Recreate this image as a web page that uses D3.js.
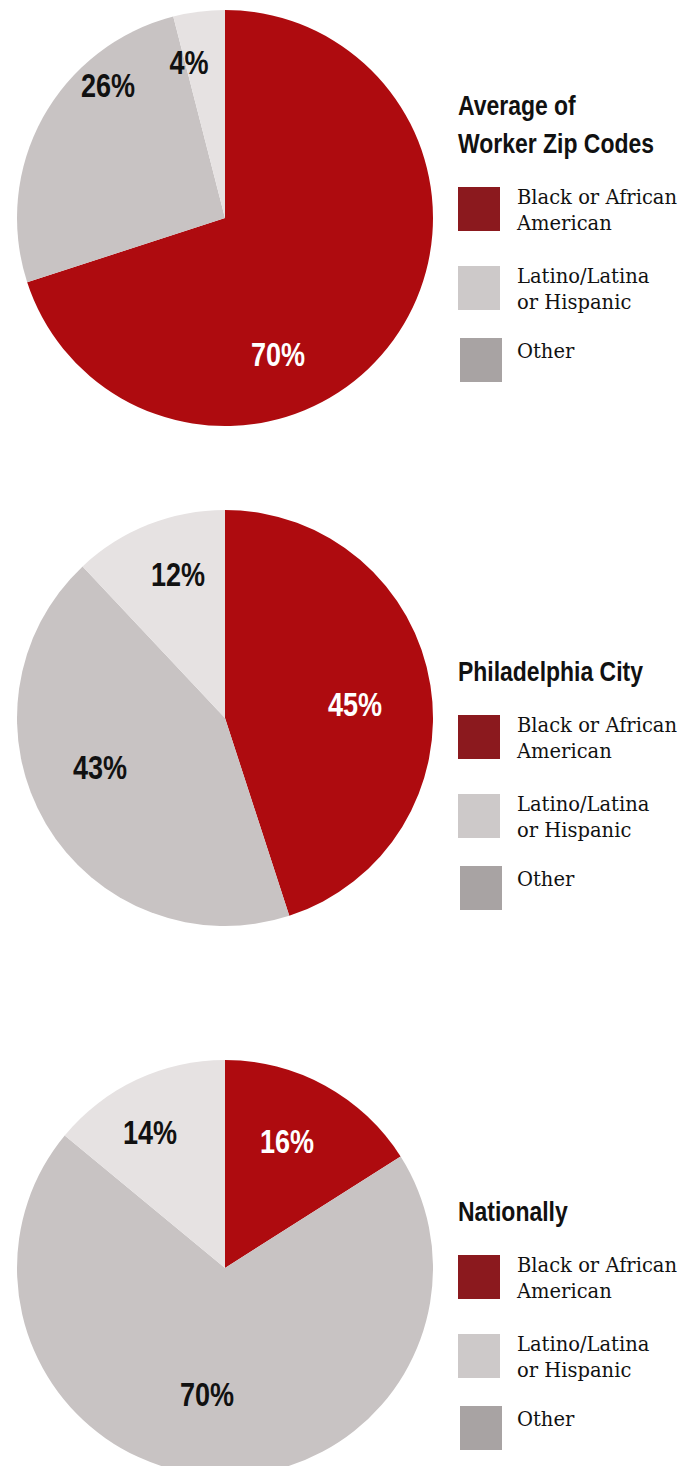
<!DOCTYPE html>
<html>
<head>
<meta charset="utf-8">
<script src="https://cdn.jsdelivr.net/npm/d3@7"></script>
<style>
  html, body { margin: 0; padding: 0; background: #ffffff; }
  svg { display: block; }
</style>
</head>
<body>
<svg id="chart" width="693" height="1466"></svg>
<script>
// ---- Data ----
const regions = ["Average of Worker Zip Codes", "Philadelphia City", "Nationally"];
const titleLines = [["Average of", "Worker Zip Codes"], ["Philadelphia City"], ["Nationally"]];
const categories = ["Black or African American", "Latino/Latina or Hispanic", "Other"];
const legendLines = [["Black or African", "American"], ["Latino/Latina", "or Hispanic"], ["Other"]];
const blackValues = [70, 45, 16];
const latinoValues = [4, 12, 14];
const otherValues = [26, 43, 70];

// ---- Layout / style ----
const cx = 225, radius = 208;
const pieCY = [218, 718, 1268];
const legendTop = [187, 715, 1255];
const legendX = 458;
const condense = 0.82;
// clockwise slice order from 12 o'clock
const sliceOrder = ["Black or African American", "Other", "Latino/Latina or Hispanic"];
const pieColor = d3.scaleOrdinal()
  .domain(categories)
  .range(["#ae0b0f", "#e6e2e2", "#c8c3c3"]);
const legendColor = d3.scaleOrdinal()
  .domain(categories)
  .range(["#8b191e", "#cdc9c9", "#a8a3a3"]);
const labelColor = d3.scaleOrdinal()
  .domain(categories)
  .range(["#ffffff", "#111111", "#111111"]);
// label offsets relative to each pie centre [dx, dy] per category
const labelOffsets = [
  { "Black or African American": [53, 137], "Other": [-117, -132], "Latino/Latina or Hispanic": [-36, -155] },
  { "Black or African American": [130, -13], "Other": [-125, 50], "Latino/Latina or Hispanic": [-47, -143] },
  { "Black or African American": [62, -126], "Other": [-18, 127], "Latino/Latina or Hispanic": [-75, -135] }
];

const svg = d3.select("#chart");
const pie = d3.pie().sort(null).value(d => d.value);
const arc = d3.arc().innerRadius(0).outerRadius(radius);

const sans = "'Liberation Sans', Arial, sans-serif";
const serif = "'DejaVu Serif', 'Liberation Serif', serif";

regions.forEach((region, i) => {
  const valueOf = {
    "Black or African American": blackValues[i],
    "Latino/Latina or Hispanic": latinoValues[i],
    "Other": otherValues[i]
  };
  const data = sliceOrder.map(c => ({ cat: c, value: valueOf[c] }));
  const g = svg.append("g").attr("transform", `translate(${cx},${pieCY[i]})`);
  const arcs = pie(data);
  g.selectAll("path")
    .data(arcs)
    .join("path")
    .attr("d", arc)
    .attr("fill", d => pieColor(d.data.cat));

  g.selectAll("text")
    .data(arcs)
    .join("text")
    .attr("transform", d => `translate(${labelOffsets[i][d.data.cat][0]},${labelOffsets[i][d.data.cat][1]}) scale(${condense},1)`)
    .attr("text-anchor", "middle")
    .attr("dominant-baseline", "central")
    .attr("font-family", sans)
    .attr("font-weight", "bold")
    .attr("font-size", 33)
    .attr("fill", d => labelColor(d.data.cat))
    .text(d => d.data.value + "%");

  // Legend
  const top = legendTop[i];
  const lg = svg.append("g");
  const tl = titleLines[i];
  tl.forEach((line, j) => {
    lg.append("text")
      .attr("transform", `translate(${legendX},${top - 34 - (tl.length - 1 - j) * 38}) scale(${condense},1)`)
      .attr("font-family", sans)
      .attr("font-weight", "bold")
      .attr("font-size", 28)
      .attr("fill", "#111111")
      .text(line);
  });
  const itemDY = [0, 79, 151];
  const boxDX = [0, 0, 2];
  categories.forEach((c, k) => {
    const y0 = top + itemDY[k];
    lg.append("rect")
      .attr("x", legendX + boxDX[k])
      .attr("y", y0)
      .attr("width", 42)
      .attr("height", 44)
      .attr("fill", legendColor(c));
    legendLines[k].forEach((line, j) => {
      lg.append("text")
        .attr("x", 517)
        .attr("y", y0 + (legendLines[k].length === 1 ? 20 : 17) + j * 26)
        .attr("font-family", serif)
        .attr("font-size", 19.5)
        .attr("fill", "#111111")
        .text(line);
    });
  });
});
</script>
</body>
</html>
